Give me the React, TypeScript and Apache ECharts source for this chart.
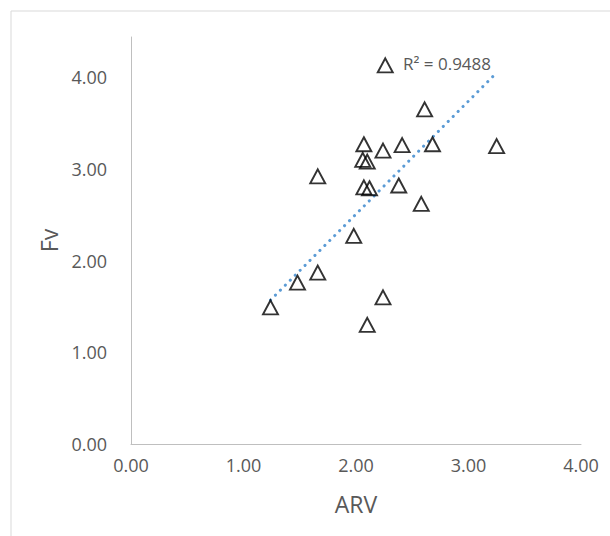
import React, { useEffect, useRef } from "react";
import * as echarts from "echarts";

// Observations: ARV (x) against Fv (y)
const arv = [1.24, 1.48, 1.66, 1.66, 1.98, 2.07, 2.06, 2.10, 2.07, 2.12, 2.10, 2.24, 2.24, 2.26, 2.41, 2.38, 2.58, 2.61, 2.68, 3.25];
const fv = [1.49, 1.76, 1.87, 2.92, 2.27, 3.27, 3.10, 3.08, 2.80, 2.79, 1.30, 1.60, 3.20, 4.13, 3.26, 2.82, 2.62, 3.65, 3.27, 3.25];

// Linear trend line end points and its fit statistic
const trendX = [1.24, 3.25];
const trendY = [1.57, 4.05];
const rSquared = "0.9488";

const xTicks = { min: 0, max: 4, step: 1 };
const yTicks = { min: 0, max: 4.44, step: 1 };

const FONT = "'Open Sans', 'Noto Sans', sans-serif";
const GREY_TEXT = "#595959";
const AXIS_GREY = "#bfbfbf";

const fmt = (v: number) =>
  Math.abs(v - Math.round(v)) < 1e-6 ? v.toFixed(2) : "";

export default function App() {
  const ref = useRef<HTMLDivElement>(null);

  useEffect(() => {
    if (!ref.current) return;
    const chart = echarts.init(ref.current, undefined, { renderer: "svg" });

    const points = arv.map((x, i) => [x, fv[i]]);
    const trend = trendX.map((x, i) => [x, trendY[i]]);

    chart.setOption({
      animation: false,
      backgroundColor: "#ffffff",
      textStyle: { fontFamily: FONT },
      grid: { left: 131, right: 29, top: 37, bottom: 92 },
      xAxis: {
        type: "value",
        min: xTicks.min,
        max: xTicks.max,
        interval: xTicks.step,
        name: "ARV",
        nameLocation: "middle",
        nameGap: 48,
        nameTextStyle: { fontSize: 23, color: GREY_TEXT, fontFamily: FONT },
        axisLine: { show: true, lineStyle: { color: AXIS_GREY, width: 1 } },
        axisTick: { show: false },
        splitLine: { show: false },
        axisLabel: {
          formatter: fmt,
          fontSize: 18,
          color: GREY_TEXT,
          fontFamily: FONT,
          margin: 12,
        },
      },
      yAxis: {
        type: "value",
        min: yTicks.min,
        max: yTicks.max,
        interval: yTicks.step,
        name: "Fv",
        nameLocation: "middle",
        nameGap: 70,
        nameRotate: 90,
        nameTextStyle: { fontSize: 23, color: GREY_TEXT, fontFamily: FONT },
        axisLine: { show: true, onZero: false, lineStyle: { color: AXIS_GREY, width: 1 } },
        axisTick: { show: false },
        splitLine: { show: false },
        axisLabel: {
          formatter: fmt,
          fontSize: 18,
          color: GREY_TEXT,
          fontFamily: FONT,
          margin: 24,
          showMaxLabel: false,
        },
      },
      graphic: [
        {
          type: "rect",
          silent: true,
          shape: { x: 11, y: 11, width: 800, height: 800 },
          style: { fill: "none", stroke: "#d9d9d9", lineWidth: 1 },
        },
        {
          type: "text",
          x: 403,
          y: 63,
          style: {
            text: `R² = ${rSquared}`,
            font: `17px ${FONT}`,
            fill: GREY_TEXT,
            verticalAlign: "middle",
            align: "left",
          },
        },
      ],
      series: [
        {
          type: "line",
          data: trend,
          showSymbol: false,
          symbol: "none",
          silent: true,
          lineStyle: {
            color: "#5b9bd5",
            width: 3,
            type: [0.1, 6.9],
            cap: "round",
          },
          z: 1,
        },
        {
          type: "scatter",
          data: points,
          symbol: "triangle",
          symbolSize: [15, 14],
          itemStyle: {
            color: "rgba(0,0,0,0)",
            borderColor: "#000000",
            borderWidth: 1.9,
          },
          z: 2,
        },
      ],
    });

    return () => chart.dispose();
  }, []);

  return (
    <div
      ref={ref}
      style={{ position: "fixed", left: 0, top: 0, width: 610, height: 536 }}
    />
  );
}
